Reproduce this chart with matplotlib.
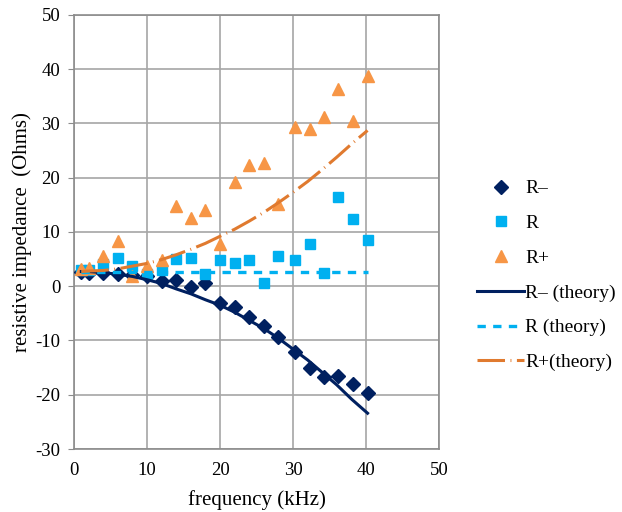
import matplotlib
matplotlib.use("Agg")
import matplotlib.pyplot as plt

plt.rcParams["font.family"] = ["Liberation Serif", "DejaVu Serif"]
plt.rcParams["axes.unicode_minus"] = False

# measured frequencies (kHz)
freq = [1, 2, 4, 6, 8, 10, 12, 14, 16, 18, 20, 22, 24, 26, 28, 30.3, 32.3, 34.3, 36.2, 38.2, 40.2]

r_minus = [2.7, 2.5, 2.5, 2.2, 2.1, 1.8, 0.9, 1.1, -0.2, 0.6, -3.1, -3.8, -5.6, -7.4, -9.4,
           -12.2, -15.0, -16.8, -16.5, -18.0, -19.7]
r_mid = [2.9, 3.0, 4.1, 5.2, 3.8, 2.2, 2.9, 5.1, 5.2, 2.2, 4.8, 4.3, 4.9, 0.5, 5.5,
         4.8, 7.8, 2.4, 16.4, 12.3, 8.6]
r_plus = [3.2, 3.4, 5.5, 8.4, 1.9, 3.8, 4.8, 14.7, 12.6, 14.0, 7.8, 19.2, 22.3, 22.7, 15.2,
          29.3, 28.9, 31.1, 36.3, 30.4, 38.8]

# theory curves
f_theory = [1, 2, 4, 6, 8, 10, 12, 14, 16, 18, 20, 22, 24, 26, 28, 30, 32, 34, 36, 38, 40.2]
r_minus_th = [2.7, 2.7, 2.5, 2.2, 1.8, 1.2, 0.5, -0.5, -1.4, -2.5, -3.5, -4.8, -6.3, -7.8,
              -9.6, -11.6, -13.6, -15.9, -18.2, -20.8, -23.4]
r_mid_th = [2.6] * len(f_theory)
r_plus_th = [2.7, 2.8, 2.9, 3.2, 3.7, 4.2, 4.9, 5.8, 6.8, 7.9, 9.2, 10.5, 12.0, 13.6, 15.4,
             17.3, 19.3, 21.5, 23.8, 26.2, 28.7]

navy = "#002060"
blue = "#00B0F0"
orange = "#F79646"
dark_orange = "#E07A2F"

fig = plt.figure(figsize=(6.22, 5.12), dpi=100)
ax = fig.add_axes([0.119, 0.123, 0.587, 0.848])

ax.plot(freq, r_minus, linestyle="none", marker="D", ms=7.5, color=navy, label="R\u2013", zorder=3)
ax.plot(freq, r_mid, linestyle="none", marker="s", ms=7, color=blue, label="R", zorder=3)
ax.plot(freq, r_plus, linestyle="none", marker="^", ms=8.5, color=orange, label="R+", zorder=3)
ax.plot(f_theory, r_minus_th, color=navy, lw=2.2, label="R\u2013 (theory)", zorder=4)
ax.plot(f_theory, r_mid_th, color=blue, lw=2.4, dashes=(2.5, 2.2), label="R (theory)", zorder=4)
ax.plot(f_theory, r_plus_th, color=dark_orange, lw=2.2, dashes=(9, 1.8, 0.3, 1.8),
        label="R+(theory)", zorder=4)

ax.set_xlim(0, 50)
ax.set_ylim(-30, 50)
ax.set_xticks(range(0, 51, 10))
ax.set_yticks(range(-30, 51, 10))
ax.grid(True, color="#A6A6A6", lw=1.2)
ax.set_axisbelow(True)
for s in ax.spines.values():
    s.set_color("#8C8C8C")
    s.set_linewidth(1.2)
ax.tick_params(axis="y", length=4, color="#8C8C8C", labelsize=13.5, pad=6)
ax.tick_params(axis="x", length=0, labelsize=13.5, pad=9)
ax.set_xlabel("frequency (kHz)", fontsize=15, labelpad=8)
ax.set_ylabel("resistive impedance  (Ohms)", fontsize=15, labelpad=2)

fig.legend(loc="center left", bbox_to_anchor=(0.755, 0.462), frameon=False,
           fontsize=14, handlelength=2.4, handletextpad=0.05, labelspacing=0.88,
           borderaxespad=0)

fig.savefig("out.png", dpi=100)
